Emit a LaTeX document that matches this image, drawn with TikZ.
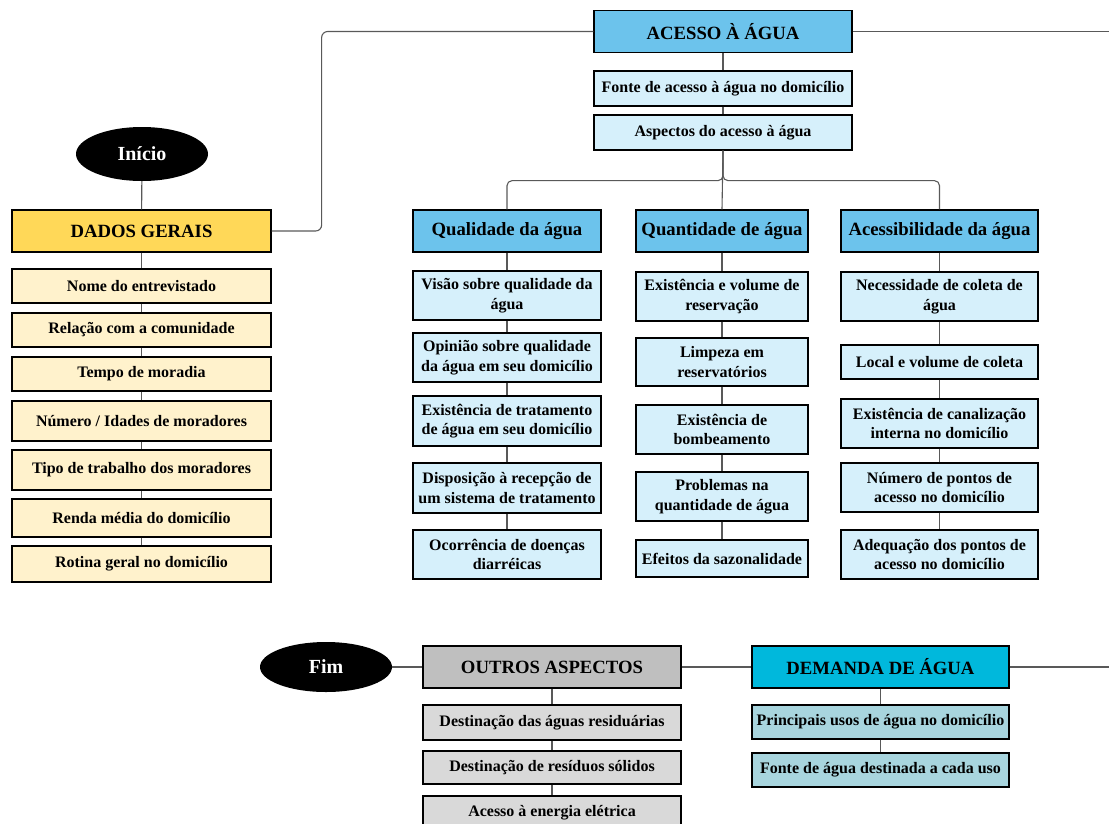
\documentclass[tikz,border=0pt]{standalone}
\usepackage{fontspec}
\setmainfont{Liberation Serif}
\usetikzlibrary{shapes.geometric}
\definecolor{geralhead}{HTML}{FFD858}
\definecolor{geralitem}{HTML}{FFF2CC}
\definecolor{aguahead}{HTML}{6CC3EC}
\definecolor{aguaitem}{HTML}{D6F0FB}
\definecolor{outroshead}{HTML}{BFBFBF}
\definecolor{outrositem}{HTML}{D9D9D9}
\definecolor{demandahead}{HTML}{00B8DC}
\definecolor{demandaitem}{HTML}{A8D5DE}
\definecolor{linegray}{HTML}{595959}
\begin{document}
\begin{tikzpicture}[x=1pt,y=-1pt,
  box/.style={draw=black, line width=1.3pt, inner sep=2pt, align=center,
    font=\fontsize{16}{19.5}\selectfont\bfseries},
  head/.style={box, minimum height=42, font=\fontsize{18.7}{22}\selectfont\bfseries},
  term/.style={ellipse, fill=black, text=white, minimum width=132, minimum height=54,
    font=\fontsize{20}{24}\selectfont\bfseries},
  conn/.style={draw=linegray, line width=1.1pt},
  geral/.style={box, minimum width=259, fill=geralitem},
  topo/.style={box, minimum width=258, fill=aguaitem},
  qual/.style={box, minimum width=188, fill=aguaitem},
  quant/.style={box, minimum width=172, fill=aguaitem},
  acess/.style={box, minimum width=197, fill=aguaitem},
  outro/.style={box, minimum width=258, fill=outrositem},
  dem/.style={box, minimum width=257, fill=demandaitem}]
\useasboundingbox (0,0) rectangle (1109,823);
% inicio e dados gerais
\node[term] (inicio) at (142,154) {Início};
\node[head, minimum width=259, fill=geralhead] (dados) at (141.5,231) {DADOS GERAIS};
\node[geral, minimum height=34] (nome) at (141.5,286) {Nome do entrevistado};
\node[geral, minimum height=34] (relacao) at (141.5,330) {Relação com a comunidade};
\node[geral, minimum height=34] (tempo) at (141.5,374) {Tempo de moradia};
\node[geral, minimum height=40] (numero) at (141.5,421) {Número / Idades de moradores};
\node[geral, minimum height=40] (tipo) at (141.5,470) {Tipo de trabalho dos moradores};
\node[geral, minimum height=38] (renda) at (141.5,518) {Renda média do domicílio};
\node[geral, minimum height=36] (rotina) at (141.5,564) {Rotina geral no domicílio};
\draw[conn] (inicio) -- (dados);
\draw[conn] (dados) -- (nome);
\draw[conn] (nome) -- (relacao);
\draw[conn] (relacao) -- (tempo);
\draw[conn] (tempo) -- (numero);
\draw[conn] (numero) -- (tipo);
\draw[conn] (tipo) -- (renda);
\draw[conn] (renda) -- (rotina);
% acesso a agua
\node[head, minimum width=258, fill=aguahead] (acesso) at (723,31.5) {ACESSO À ÁGUA};
\node[topo, minimum height=35] (fonte) at (723,88.5) {Fonte de acesso à água no domicílio};
\node[topo, minimum height=35] (aspectos) at (723,132.5) {Aspectos do acesso à água};
\coordinate (saida1) at (1109,31.5);
\draw[conn, rounded corners=6] (dados.east) -- ++(50,0) |- (acesso.west);
\draw[conn] (acesso) -- (saida1);
\draw[conn] (acesso) -- (fonte);
\draw[conn] (fonte) -- (aspectos);
\node[head, minimum width=188, fill=aguahead] (qualidade) at (507,231) {Qualidade da água};
\node[head, minimum width=172, fill=aguahead] (quantidade) at (722,231) {Quantidade de água};
\node[head, minimum width=197, fill=aguahead] (acessib) at (939.5,231) {Acessibilidade da água};
\draw[conn, rounded corners=5] (aspectos.south) -- ++(0,30) -| (qualidade.north);
\draw[conn, rounded corners=5] (aspectos.south) -- ++(0,30) -| (acessib.north);
\draw[conn] (aspectos.south) -- (quantidade.north);
% qualidade
\node[qual, minimum height=49] (visao) at (507,295.5) {Visão sobre qualidade da\\água};
\node[qual, minimum height=49] (opiniao) at (507,357.5) {Opinião sobre qualidade\\da água em seu domicílio};
\node[qual, minimum height=50] (tratamento) at (507,421) {Existência de tratamento\\de água em seu domicílio};
\node[qual, minimum height=50] (disposicao) at (507,488) {Disposição à recepção de\\um sistema de tratamento};
\node[qual, minimum height=49] (doencas) at (507,554.5) {Ocorrência de doenças\\diarréicas};
\draw[conn] (qualidade) -- (visao);
\draw[conn] (visao) -- (opiniao);
\draw[conn] (opiniao) -- (tratamento);
\draw[conn] (tratamento) -- (disposicao);
\draw[conn] (disposicao) -- (doencas);
% quantidade
\node[quant, minimum height=49] (reserva) at (722,296.5) {Existência e volume de\\reservação};
\node[quant, minimum height=48] (limpeza) at (722,362) {Limpeza em\\reservatórios};
\node[quant, minimum height=49] (bombeam) at (722,429.5) {Existência de\\bombeamento};
\node[quant, minimum height=49] (problemas) at (722,496.5) {Problemas na\\quantidade de água};
\node[quant, minimum height=37] (sazonal) at (722,558.5) {Efeitos da sazonalidade};
\draw[conn] (quantidade) -- (reserva);
\draw[conn] (reserva) -- (limpeza);
\draw[conn] (limpeza) -- (bombeam);
\draw[conn] (bombeam) -- (problemas);
\draw[conn] (problemas) -- (sazonal);
% acessibilidade
\node[acess, minimum height=49] (coleta) at (939.5,296.5) {Necessidade de coleta de\\água};
\node[acess, minimum height=34] (local) at (939.5,362) {Local e volume de coleta};
\node[acess, minimum height=49] (canal) at (939.5,423.5) {Existência de canalização\\interna no domicílio};
\node[acess, minimum height=49] (pontos) at (939.5,487.5) {Número de pontos de\\acesso no domicílio};
\node[acess, minimum height=49] (adequacao) at (939.5,554.5) {Adequação dos pontos de\\acesso no domicílio};
\draw[conn] (acessib) -- (coleta);
\draw[conn] (coleta) -- (local);
\draw[conn] (local) -- (canal);
\draw[conn] (canal) -- (pontos);
\draw[conn] (pontos) -- (adequacao);
% demanda, outros aspectos e fim
\node[term, minimum height=50] (fim) at (326,667) {Fim};
\node[head, minimum width=258, fill=outroshead] (outros) at (552,667) {OUTROS ASPECTOS};
\node[head, minimum width=257, fill=demandahead] (demanda) at (880.5,667) {DEMANDA DE ÁGUA};
\coordinate (saida2) at (1109,667);
\draw[conn] (demanda) -- (saida2);
\draw[conn] (outros) -- (demanda);
\draw[conn] (fim) -- (outros);
\node[outro, minimum height=35] (residuos) at (552,722.5) {Destinação das águas residuárias};
\node[outro, minimum height=33] (solidos) at (552,767.5) {Destinação de resíduos sólidos};
\node[outro, minimum height=34] (energia) at (552,813) {Acesso à energia elétrica};
\draw[conn] (outros) -- (residuos);
\draw[conn] (residuos) -- (solidos);
\draw[conn] (solidos) -- (energia);
\node[dem, minimum height=34] (usos) at (880.5,722) {Principais usos de água no domicílio};
\node[dem, minimum height=34] (fonteuso) at (880.5,770) {Fonte de água destinada a cada uso};
\draw[conn] (demanda) -- (usos);
\draw[conn] (usos) -- (fonteuso);
\end{tikzpicture}
\end{document}
